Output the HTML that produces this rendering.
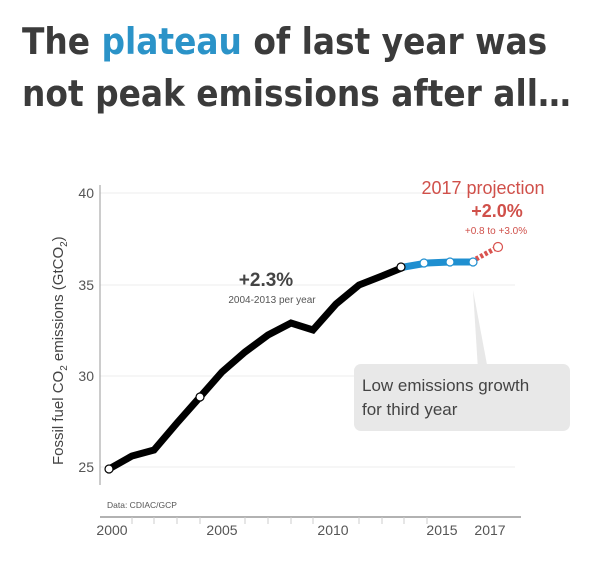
<!DOCTYPE html>
<html><head><style>
body{margin:0;background:#fff;width:600px;height:563px;overflow:hidden;font-family:"DejaVu Sans Condensed","Liberation Sans",sans-serif}
.t{position:absolute;left:22px;top:16px;font-size:36.5px;line-height:52px;font-weight:bold;color:#3b3b3b;white-space:nowrap;font-family:"DejaVu Sans Condensed","Liberation Sans",sans-serif}
.t span{color:#2b93c8}
</style></head><body>
<div class="t">The <span>plateau</span> of last year was<br>not peak emissions after all…</div>
<svg width="600" height="563" style="position:absolute;left:0;top:0" font-family="Liberation Sans, sans-serif">
<g stroke="#eee" stroke-width="1">
<line x1="100" y1="193" x2="515" y2="193"/><line x1="100" y1="285" x2="515" y2="285"/><line x1="100" y1="376" x2="515" y2="376"/><line x1="100" y1="467" x2="515" y2="467"/>
</g>
<line x1="100" y1="185" x2="100" y2="485" stroke="#999" stroke-width="1"/>
<line x1="100" y1="517" x2="521" y2="517" stroke="#999" stroke-width="1.5"/>
<g stroke="#ccc"><line x1="132" y1="517" x2="132" y2="524"/><line x1="154" y1="517" x2="154" y2="524"/><line x1="177" y1="517" x2="177" y2="524"/><line x1="200" y1="517" x2="200" y2="524"/><line x1="245" y1="517" x2="245" y2="524"/><line x1="268" y1="517" x2="268" y2="524"/><line x1="291" y1="517" x2="291" y2="524"/><line x1="313" y1="517" x2="313" y2="524"/><line x1="359" y1="517" x2="359" y2="524"/><line x1="382" y1="517" x2="382" y2="524"/><line x1="404" y1="517" x2="404" y2="524"/><line x1="427" y1="517" x2="427" y2="524"/></g>
<g fill="#555" font-size="14" text-anchor="end"><text x="94" y="198">40</text><text x="94" y="290">35</text><text x="94" y="381">30</text><text x="94" y="472">25</text></g>
<g fill="#555" font-size="14" text-anchor="middle"><text x="112" y="535">2000</text><text x="222" y="535">2005</text><text x="333" y="535">2010</text><text x="442" y="535">2015</text><text x="490" y="535">2017</text></g>
<text x="107" y="508" font-size="8.5" fill="#555">Data: CDIAC/GCP</text>
<text transform="translate(63,465) rotate(-90)" font-size="15" fill="#444">Fossil fuel CO<tspan font-size="10" dy="4">2</tspan><tspan dy="-4"> emissions (GtCO</tspan><tspan font-size="10" dy="4">2</tspan><tspan dy="-4">)</tspan></text>
<polyline fill="none" stroke="#000" stroke-width="7" stroke-linejoin="miter" points="109,469 132,456 154,450 177,423 200,397 222,372 245,352 268,335 291,323 313,330 336,304 359,285 382,276 404,267"/>
<polyline fill="none" stroke="#1f8fd0" stroke-width="7" points="404,267 427,263 450,262 473,262"/>
<line x1="476" y1="259" x2="496" y2="248" stroke="#d9534f" stroke-width="5" stroke-dasharray="3,2"/>
<g fill="#fff" stroke="#000" stroke-width="1.2"><circle cx="109" cy="469" r="4"/><circle cx="200" cy="397" r="4"/><circle cx="401" cy="267" r="4"/></g>
<g fill="#fff" stroke="#1f8fd0" stroke-width="1.2"><circle cx="424" cy="263" r="4"/><circle cx="450" cy="262" r="4"/><circle cx="473" cy="262" r="4"/></g>
<circle cx="498" cy="247" r="4.5" fill="#fff" stroke="#d9534f" stroke-width="1.2"/>
<path d="M473,290 L478,370 L488,370 Z" fill="#e8e8e8"/>
<rect x="354" y="364" width="216" height="67" rx="7" fill="#e8e8e8"/>
<text x="362" y="391" font-size="17" fill="#444">Low emissions growth</text>
<text x="362" y="415" font-size="17" fill="#444">for third year</text>
<text x="266" y="286" font-size="19" font-weight="bold" fill="#444" text-anchor="middle">+2.3%</text>
<text x="272" y="303" font-size="10" fill="#555" text-anchor="middle">2004-2013 per year</text>
<text x="483" y="194" font-size="18" fill="#d0504a" text-anchor="middle">2017 projection</text>
<text x="497" y="217" font-size="18" fill="#d0504a" font-weight="bold" text-anchor="middle">+2.0%</text>
<text x="496" y="234" font-size="10" fill="#d0504a" text-anchor="middle">+0.8 to +3.0%</text>
</svg>
</body></html>
